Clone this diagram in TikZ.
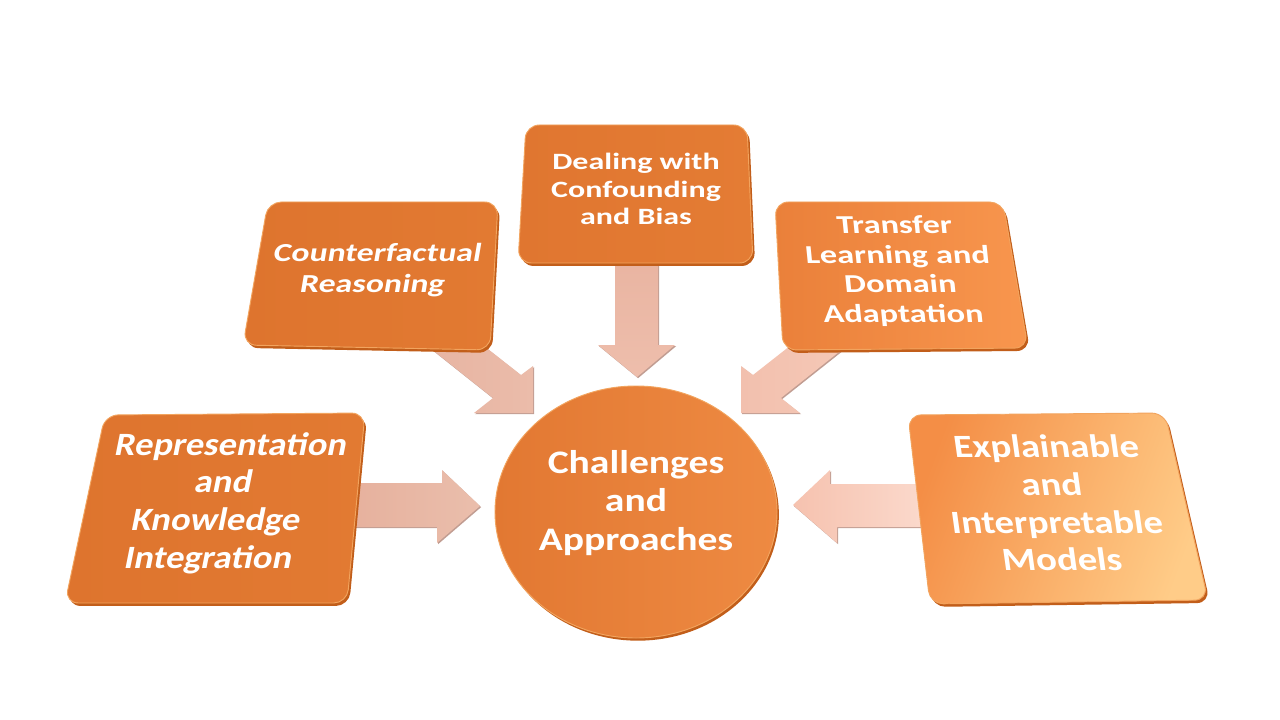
\documentclass[tikz,border=0pt]{standalone}
\usepackage{fontspec}
\setmainfont{Carlito}
\usetikzlibrary{calc}
\definecolor{boxor}{HTML}{E07630}
\definecolor{boxrim}{HTML}{C25E1A}
\definecolor{boxhi}{HTML}{F2A45E}
\definecolor{arrshadow}{HTML}{A87464}
\begin{document}
\begin{tikzpicture}[x=0.75pt,y=-0.75pt,
  boxshadow/.style={fill=boxrim, rounded corners=10pt, transform canvas={shift={(1.6pt,-2.2pt)}}},
  boxbody/.style={draw=boxhi, line width=0.7pt, rounded corners=10pt},
  arrowshadow/.style={fill=arrshadow, opacity=0.7, transform canvas={shift={(0.8pt,-0.9pt)}}},
  lbl/.style={text=white, align=center, transform shape, inner sep=0pt}]
\useasboundingbox (0,0) rectangle (1280,720);
\fill[white] (0,0) rectangle (1280,720);

% ---------- corner coordinates ----------
\coordinate (rkA) at (105,415); \coordinate (rkB) at (365,413);
\coordinate (rkC) at (347,603); \coordinate (rkD) at (65,603);
\coordinate (exA) at (908,415); \coordinate (exB) at (1165,413);
\coordinate (exC) at (1208,600); \coordinate (exD) at (930,604);
\coordinate (cfA) at (268,202); \coordinate (cfB) at (498,202);
\coordinate (cfC) at (490,350); \coordinate (cfD) at (243,345);
\coordinate (dbA) at (526,125); \coordinate (dbB) at (747,125);
\coordinate (dbC) at (753,263); \coordinate (dbD) at (518,263);
\coordinate (tlA) at (775,202); \coordinate (tlB) at (1003,202);
\coordinate (tlC) at (1028,348); \coordinate (tlD) at (783,350);

% ---------- arrows ----------
% left
\fill[arrowshadow] (340,483) -- (442,483) -- (442,470) -- (480,506) -- (437,543) -- (437,527) -- (340,527) -- cycle;
\shade[left color={rgb,255:red,230;green,176;blue,156}, right color={rgb,255:red,234;green,190;blue,172}]
  (340,483) -- (442,483) -- (442,470) -- (480,506) -- (437,543) -- (437,527) -- (340,527) -- cycle;
% right
\fill[arrowshadow] (930,484) -- (830,484) -- (830,470) -- (793,505) -- (837,543) -- (837,527) -- (930,527) -- cycle;
\shade[left color={rgb,255:red,246;green,194;blue,175}, right color={rgb,255:red,251;green,218;blue,205}]
  (930,484) -- (830,484) -- (830,470) -- (793,505) -- (837,543) -- (837,527) -- (930,527) -- cycle;
% top
\fill[arrowshadow] (615,255) -- (658,255) -- (658,345) -- (675,345) -- (637,377) -- (598,345) -- (615,345) -- cycle;
\shade[top color={rgb,255:red,233;green,180;blue,161}, bottom color={rgb,255:red,238;green,190;blue,172}]
  (615,255) -- (658,255) -- (658,345) -- (675,345) -- (637,377) -- (598,345) -- (615,345) -- cycle;
% counterfactual diagonal
\fill[arrowshadow] (425,344) -- (479,342) -- (521,375) -- (533,366) -- (533,413) -- (474,413) -- (493,398) -- cycle;
\shade[left color={rgb,255:red,231;green,180;blue,162}, right color={rgb,255:red,235;green,188;blue,170}]
  (425,344) -- (479,342) -- (521,375) -- (533,366) -- (533,413) -- (474,413) -- (493,398) -- cycle;
% transfer diagonal
\fill[arrowshadow] (849,344) -- (795,342) -- (753,375) -- (741,366) -- (741,413) -- (800,413) -- (781,398) -- cycle;
\shade[left color={rgb,255:red,242;green,192;blue,174}, right color={rgb,255:red,245;green,200;blue,182}]
  (849,344) -- (795,342) -- (753,375) -- (741,366) -- (741,413) -- (800,413) -- (781,398) -- cycle;

% ---------- boxes ----------
\fill[boxshadow] (rkA) -- (rkB) -- (rkC) -- (rkD) -- cycle;
\shadedraw[boxbody, left color={rgb,255:red,222;green,116;blue,46}, right color={rgb,255:red,226;green,122;blue,50}]
  (rkA) -- (rkB) -- (rkC) -- (rkD) -- cycle;

\fill[boxshadow] (cfA) -- (cfB) -- (cfC) -- (cfD) -- cycle;
\shadedraw[boxbody, left color={rgb,255:red,222;green,116;blue,46}, right color={rgb,255:red,226;green,122;blue,50}]
  (cfA) -- (cfB) -- (cfC) -- (cfD) -- cycle;

\fill[boxshadow] (dbA) -- (dbB) -- (dbC) -- (dbD) -- cycle;
\shadedraw[boxbody, left color={rgb,255:red,224;green,118;blue,48}, right color={rgb,255:red,228;green,124;blue,52}]
  (dbA) -- (dbB) -- (dbC) -- (dbD) -- cycle;

\fill[boxshadow] (tlA) -- (tlB) -- (tlC) -- (tlD) -- cycle;
\shadedraw[boxbody, left color={rgb,255:red,234;green,128;blue,58}, right color={rgb,255:red,248;green,150;blue,78}]
  (tlA) -- (tlB) -- (tlC) -- (tlD) -- cycle;

\fill[boxshadow] (exA) -- (exB) -- (exC) -- (exD) -- cycle;
\shadedraw[boxbody, left color={rgb,255:red,244;green,142;blue,70}, right color={rgb,255:red,255;green,204;blue,136}, shading angle=70]
  (exA) -- (exB) -- (exC) -- (exD) -- cycle;

% ---------- centre circle ----------
\fill[boxrim, transform canvas={shift={(1.4pt,-2pt)}}] (636,512) ellipse [x radius=141, y radius=126];
\shadedraw[draw=boxhi, line width=0.7pt, left color={rgb,255:red,226;green,120;blue,50}, right color={rgb,255:red,238;green,138;blue,66}]
  (636,512) ellipse [x radius=141, y radius=126];

% ---------- labels ----------
\node[lbl, xslant=0.2, yscale=0.89, font=\bfseries\fontsize{27.4}{31.8}\selectfont] (rk) at (220,503)
  {Representation\\and\\Knowledge\\Integration};
\node[lbl, xslant=0.17, yscale=0.77, font=\bfseries\fontsize{25.3}{29.4}\selectfont] (cf) at (375,270)
  {Counterfactual\\Reasoning};
\node[lbl, yscale=0.73, font=\bfseries\fontsize{24}{27.9}\selectfont] (db) at (636,189)
  {Dealing with\\Confounding\\and Bias};
\node[lbl, xslant=-0.1, yscale=0.75, font=\bfseries\fontsize{25.8}{29.6}\selectfont] (tl) at (899,271)
  {Transfer\\Learning and\\Domain\\Adaptation};
\node[lbl, xslant=-0.14, yscale=0.84, font=\bfseries\fontsize{29}{33.7}\selectfont] (ex) at (1054,503)
  {Explainable\\and\\Interpretable\\Models};
\node[lbl, yscale=0.83, font=\bfseries\fontsize{29.7}{34.5}\selectfont] (ca) at (636,503)
  {Challenges\\and\\Approaches};
\end{tikzpicture}
\end{document}
